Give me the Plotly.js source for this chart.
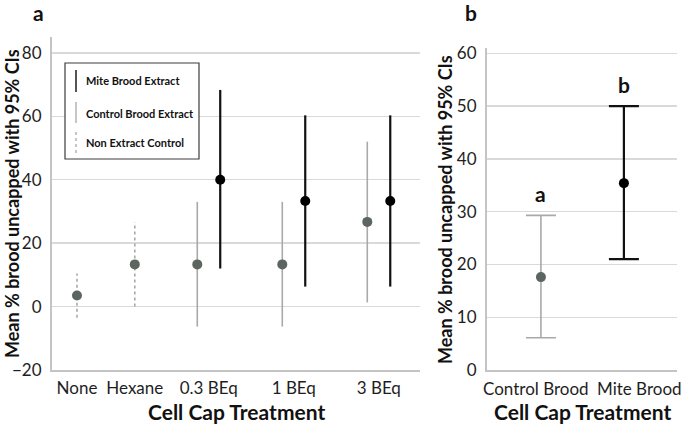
<!DOCTYPE html>
<html>
<head>
<meta charset="utf-8">
<script src="https://cdn.plot.ly/plotly-3.0.1.min.js"></script>
<style>html,body{margin:0;padding:0;background:#fff;}#chart{width:685px;height:429px;}</style>
</head>
<body>
<div id="chart"></div>
<script>
// ---------- Panel a data ----------
const nonExtractCats = ['None', 'Hexane'];
const nonExtractMean = [3.5, 13.3];
const nonExtractLo = [-3.5, 0];
const nonExtractHi = [10.4, 26.6];

const extractCats = ['0.3 BEq', '1 BEq', '3 BEq'];
const controlMean = [13.3, 13.3, 26.7];
const controlLo = [-6.3, -6.3, 1.3];
const controlHi = [33.0, 33.0, 52.0];

const miteMean = [40.0, 33.3, 33.3];
const miteLo = [12.0, 6.3, 6.3];
const miteHi = [68.3, 60.3, 60.3];

const tickLabelsA = ['None', 'Hexane', '0.3 BEq', '1 BEq', '3 BEq'];
const yTicksA = [-20, 0, 20, 40, 60, 80];

// ---------- Panel b data ----------
const catsB = ['Control Brood', 'Mite Brood'];
const meanB = [17.6, 35.4];
const loB = [6.1, 21.0];
const hiB = [29.3, 50.0];
const lettersB = ['a', 'b'];
const yTicksB = [0, 10, 20, 30, 40, 50, 60];

// ---------- layout helpers (positions / styles) ----------
const W = 685, H = 429;
const px = v => v / W;
const py = v => 1 - v / H;
const catPos = {'None': 0, 'Hexane': 0.68, '0.3 BEq': 1.55, '1 BEq': 2.55, '3 BEq': 3.55};
const pairOff = 0.135;
const labelShiftB = [-4.5, 16];
const FONT = 'Lato, "Open Sans", sans-serif';
const GREY_LINE = '#a9a9a9';
const GREY_DOT = '#5b6660';
const diff = (a, b) => a.map((v, i) => v - b[i]);

// dashed CI lines for non-extract control (built from arrays)
const dashX = [], dashY = [];
nonExtractCats.forEach((c, i) => {
  dashX.push(catPos[c], catPos[c], null);
  dashY.push(nonExtractLo[i], nonExtractHi[i], null);
});

const traces = [
  {
    x: dashX, y: dashY, type: 'scatter', mode: 'lines',
    line: {color: GREY_LINE, width: 1.6, dash: '3px,3px'},
    xaxis: 'x', yaxis: 'y', showlegend: false, hoverinfo: 'skip'
  },
  {
    x: nonExtractCats.map(c => catPos[c]), y: nonExtractMean,
    type: 'scatter', mode: 'markers',
    marker: {color: GREY_DOT, size: 10},
    xaxis: 'x', yaxis: 'y', showlegend: false
  },
  {
    x: extractCats.map(c => catPos[c] - pairOff), y: controlMean,
    type: 'scatter', mode: 'markers',
    marker: {color: GREY_DOT, size: 10},
    error_y: {type: 'data', symmetric: false, array: diff(controlHi, controlMean),
              arrayminus: diff(controlMean, controlLo), color: GREY_LINE, thickness: 1.6, width: 0},
    xaxis: 'x', yaxis: 'y', showlegend: false
  },
  {
    x: extractCats.map(c => catPos[c] + pairOff), y: miteMean,
    type: 'scatter', mode: 'markers',
    marker: {color: '#000000', size: 10},
    error_y: {type: 'data', symmetric: false, array: diff(miteHi, miteMean),
              arrayminus: diff(miteMean, miteLo), color: '#111111', thickness: 2.2, width: 0},
    xaxis: 'x', yaxis: 'y', showlegend: false
  },
  {
    x: [catsB[0]], y: [meanB[0]], type: 'scatter', mode: 'markers',
    marker: {color: GREY_DOT, size: 10},
    error_y: {type: 'data', symmetric: false, array: [hiB[0] - meanB[0]],
              arrayminus: [meanB[0] - loB[0]], color: GREY_LINE, thickness: 1.6, width: 15},
    xaxis: 'x2', yaxis: 'y2', showlegend: false
  },
  {
    x: [catsB[1]], y: [meanB[1]], type: 'scatter', mode: 'markers',
    marker: {color: '#000000', size: 10},
    error_y: {type: 'data', symmetric: false, array: [hiB[1] - meanB[1]],
              arrayminus: [meanB[1] - loB[1]], color: '#111111', thickness: 2.2, width: 15},
    xaxis: 'x2', yaxis: 'y2', showlegend: false
  }
];

const axisLine = {showline: true, linecolor: '#c4c4c4', linewidth: 2, zeroline: false, ticks: ''};
const tickFont = {family: FONT, size: 17, color: '#1e1e1e'};

const layout = {
  width: W, height: H,
  margin: {l: 0, r: 0, t: 0, b: 0},
  paper_bgcolor: '#ffffff', plot_bgcolor: '#ffffff',
  font: {family: FONT},
  showlegend: false,
  xaxis: Object.assign({}, axisLine, {
    domain: [px(52), px(420)], range: [-0.294, 4.035],
    tickvals: tickLabelsA.map(c => catPos[c]), ticktext: tickLabelsA, tickangle: 0,
    showgrid: false, tickfont: tickFont, ticklabelstandoff: 2, anchor: 'y'
  }),
  yaxis: Object.assign({}, axisLine, {
    domain: [1 - 370 / H, 1 - 37 / H], range: [-20, 85],
    tickvals: yTicksA, showgrid: true, gridcolor: '#d9d9d9', gridwidth: 1.3,
    tickfont: tickFont, ticklabelstandoff: 5, anchor: 'x'
  }),
  xaxis2: Object.assign({}, axisLine, {
    domain: [px(487), px(677)], range: [-0.65, 1.64], type: 'category',
    categoryarray: catsB, showticklabels: false,
    showgrid: false, anchor: 'y2'
  }),
  yaxis2: Object.assign({}, axisLine, {
    domain: [1 - 370 / H, 1 - 48 / H], range: [0, 61],
    tickvals: yTicksB, showgrid: true, gridcolor: '#d9d9d9', gridwidth: 1.3,
    tickfont: tickFont, ticklabelstandoff: 5, anchor: 'x2'
  }),
  shapes: [
    {type: 'rect', xref: 'paper', yref: 'paper', x0: px(65), x1: px(199), y0: py(159), y1: py(63),
     line: {color: '#3c3c3c', width: 1.2}, fillcolor: '#ffffff', layer: 'above'},
    {type: 'line', xref: 'paper', yref: 'paper', x0: px(76), x1: px(76), y0: py(92), y1: py(70),
     line: {color: '#555555', width: 2}, layer: 'above'},
    {type: 'line', xref: 'paper', yref: 'paper', x0: px(76), x1: px(76), y0: py(123), y1: py(102),
     line: {color: '#b8b8b8', width: 1.6}, layer: 'above'},
    {type: 'line', xref: 'paper', yref: 'paper', x0: px(76), x1: px(76), y0: py(153), y1: py(132),
     line: {color: '#b8b8b8', width: 1.6, dash: '3px,3px'}, layer: 'above'}
  ],
  annotations: [
    {text: 'Mite Brood Extract', xref: 'paper', yref: 'paper', x: px(84), y: py(81),
     xanchor: 'left', yanchor: 'middle', showarrow: false, font: {family: FONT, size: 11, color: '#111', weight: 'bold'}},
    {text: 'Control Brood Extract', xref: 'paper', yref: 'paper', x: px(84), y: py(113),
     xanchor: 'left', yanchor: 'middle', showarrow: false, font: {family: FONT, size: 11, color: '#111', weight: 'bold'}},
    {text: 'Non Extract Control', xref: 'paper', yref: 'paper', x: px(84), y: py(143),
     xanchor: 'left', yanchor: 'middle', showarrow: false, font: {family: FONT, size: 11, color: '#111', weight: 'bold'}},
    {text: '<b>a</b>', xref: 'paper', yref: 'paper', x: px(38), y: py(13), xanchor: 'center', yanchor: 'middle',
     showarrow: false, font: {family: FONT, size: 21, color: '#111'}},
    {text: '<b>b</b>', xref: 'paper', yref: 'paper', x: px(471), y: py(13), xanchor: 'center', yanchor: 'middle',
     showarrow: false, font: {family: FONT, size: 21, color: '#111'}},
    {text: '<b>Mean % brood uncapped with 95% CIs</b>', xref: 'paper', yref: 'paper', x: px(12), y: py(204),
     xanchor: 'center', yanchor: 'middle', textangle: -90, showarrow: false, font: {family: FONT, size: 18, color: '#111'}},
    {text: '<b>Mean % brood uncapped with 95% CIs</b>', xref: 'paper', yref: 'paper', x: px(445), y: py(210),
     xanchor: 'center', yanchor: 'middle', textangle: -90, showarrow: false, font: {family: FONT, size: 18, color: '#111'}},
    {text: '<b>Cell Cap Treatment</b>', xref: 'paper', yref: 'paper', x: px(236), y: py(411),
     xanchor: 'center', yanchor: 'middle', showarrow: false, font: {family: FONT, size: 21, color: '#111'}},
    {text: '<b>Cell Cap Treatment</b>', xref: 'paper', yref: 'paper', x: px(582), y: py(411),
     xanchor: 'center', yanchor: 'middle', showarrow: false, font: {family: FONT, size: 21, color: '#111'}}
  ].concat(catsB.map((c, i) => ({
    text: '<b>' + lettersB[i] + '</b>', xref: 'x2', yref: 'y2', x: c, y: hiB[i], yshift: 22,
    xanchor: 'center', yanchor: 'middle', showarrow: false, font: {family: FONT, size: 21, color: '#111'}
  }))).concat(catsB.map((c, i) => ({
    text: c, xref: 'x2', yref: 'paper', x: c, y: py(388), xshift: labelShiftB[i],
    xanchor: 'center', yanchor: 'middle', showarrow: false, font: tickFont
  })))
};

Plotly.newPlot('chart', traces, layout, {staticPlot: true, displayModeBar: false});
</script>
</body>
</html>
